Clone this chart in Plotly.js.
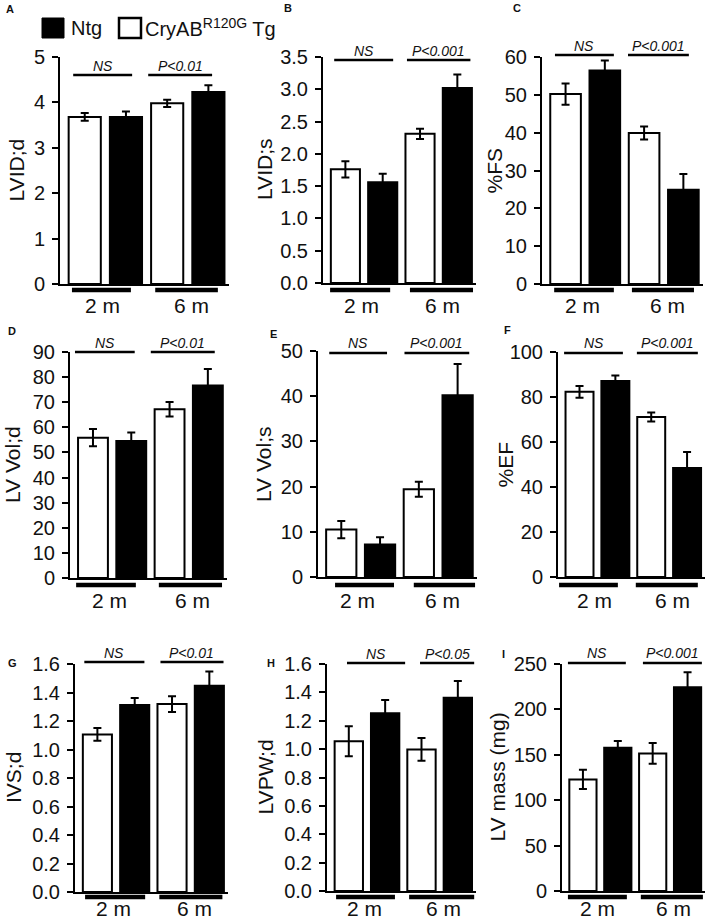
<!DOCTYPE html>
<html>
<head>
<meta charset="utf-8">
<script src="https://cdn.plot.ly/plotly-3.0.1.min.js"></script>
<style>
  html, body { margin: 0; padding: 0; background: #fff; }
  #chart { width: 709px; height: 919px; }
</style>
</head>
<body>
<div id="chart"></div>
<script>
// ---------------- DATA ----------------
const ages = ['2 m', '6 m'];
const groupNames = ['Ntg', 'CryAB<sup>R120G</sup> Tg'];

const yTitles = ['LVID;d', 'LVID;s', '%FS', 'LV Vol;d', 'LV Vol;s', '%EF', 'IVS;d', 'LVPW;d', 'LV mass (mg)'];
const panelLetters = ['A', 'B', 'C', 'D', 'E', 'F', 'G', 'H', 'I'];
const twoMonthLabels = ['NS', 'NS', 'NS', 'NS', 'NS', 'NS', 'NS', 'NS', 'NS'];
const sixMonthLabels = ['P<0.01', 'P<0.001', 'P<0.001', 'P<0.01', 'P<0.001', 'P<0.001', 'P<0.01', 'P<0.05', 'P<0.001'];

// white bars = CryAB R120G Tg, black bars = Ntg (as in the legend)
const lvidD_tg = [3.68, 3.98],   lvidD_tgErr = [0.085, 0.08],  lvidD_ntg = [3.68, 4.23],   lvidD_ntgErr = [0.12, 0.15];
const lvidS_tg = [1.76, 2.31],   lvidS_tgErr = [0.125, 0.08],  lvidS_ntg = [1.56, 3.02],   lvidS_ntgErr = [0.13, 0.21];
const fs_tg = [50.2, 39.9],      fs_tgErr = [2.8, 1.7],        fs_ntg = [56.4, 24.9],      fs_ntgErr = [2.7, 4.2];
const volD_tg = [55.9, 67.2],    volD_tgErr = [3.4, 2.9],      volD_ntg = [54.6, 76.7],    volD_ntgErr = [3.3, 6.5];
const volS_tg = [10.5, 19.4],    volS_tgErr = [1.9, 1.65],     volS_ntg = [7.2, 40.2],     volS_ntgErr = [1.6, 6.9];
const ef_tg = [82.3, 71.1],      ef_tgErr = [2.6, 2.0],        ef_ntg = [87.1, 48.4],      ef_ntgErr = [2.5, 7.2];
const ivsD_tg = [1.106, 1.319],  ivsD_tgErr = [0.045, 0.055],  ivsD_ntg = [1.312, 1.448],  ivsD_ntgErr = [0.05, 0.10];
const lvpwD_tg = [1.056, 0.998], lvpwD_tgErr = [0.106, 0.08],  lvpwD_ntg = [1.252, 1.362], lvpwD_ntgErr = [0.094, 0.118];
const mass_tg = [122.8, 151.5],  mass_tgErr = [10.6, 11.4],    mass_ntg = [157.7, 224.3],  mass_ntgErr = [7.4, 16.5];

const yRanges = [[0, 5], [0, 3.5], [0, 60], [0, 90], [0, 50], [0, 100], [0, 1.6], [0, 1.6], [0, 250]];
const yDticks = [1, 0.5, 10, 10, 10, 20, 0.2, 0.2, 50];
const yTickFormats = ['d', '.1f', 'd', 'd', 'd', 'd', '.1f', '.1f', 'd'];

const series = [
  [lvidD_tg, lvidD_tgErr, lvidD_ntg, lvidD_ntgErr],
  [lvidS_tg, lvidS_tgErr, lvidS_ntg, lvidS_ntgErr],
  [fs_tg, fs_tgErr, fs_ntg, fs_ntgErr],
  [volD_tg, volD_tgErr, volD_ntg, volD_ntgErr],
  [volS_tg, volS_tgErr, volS_ntg, volS_ntgErr],
  [ef_tg, ef_tgErr, ef_ntg, ef_ntgErr],
  [ivsD_tg, ivsD_tgErr, ivsD_ntg, ivsD_ntgErr],
  [lvpwD_tg, lvpwD_tgErr, lvpwD_ntg, lvpwD_ntgErr],
  [mass_tg, mass_tgErr, mass_ntg, mass_ntgErr]
];

// ---------------- LAYOUT GEOMETRY (pixels) ----------------
const W = 709, H = 919;
const PX = x => x / W;
const PY = y => 1 - y / H;

const geo = [
  {xL: 60,  xR: 229, yT: 57,  yB: 284, tx: 16,  sigY: 75,  sigTY: 66,  ns: [-0.28, 1.15], p: [1.54, 3.09], ul: [[-0.31, 1.12], [1.71, 3.23]], ulY: 290, lblY: 305, let: [10, 9]},
  {xL: 323, xR: 476, yT: 57,  yB: 283, tx: 265, sigY: 60,  sigTY: 51,  ns: [-0.30, 1.28], p: [1.65, 3.35], ul: [[-0.41, 1.20], [1.73, 3.42]], ulY: 290, lblY: 305, let: [288, 8]},
  {xL: 542, xR: 703, yT: 57,  yB: 284, tx: 494, sigY: 55,  sigTY: 46,  ns: [-0.27, 1.23], p: [1.59, 3.14], ul: [[-0.29, 1.23], [1.69, 3.27]], ulY: 290, lblY: 305, let: [517, 8]},
  {xL: 70,  xR: 227, yT: 352, yB: 578, tx: 12,  sigY: 352, sigTY: 343, ns: [-0.47, 1.09], p: [1.51, 3.18], ul: [[-0.44, 1.12], [1.72, 3.37]], ulY: 585, lblY: 600, let: [12, 331]},
  {xL: 318, xR: 477, yT: 351, yB: 577, tx: 263, sigY: 353, sigTY: 343, ns: [-0.31, 1.18], p: [1.63, 3.30], ul: [[-0.16, 1.36], [1.87, 3.45]], ulY: 585, lblY: 600, let: [273, 334]},
  {xL: 558, xR: 705, yT: 352, yB: 577, tx: 505, sigY: 353, sigTY: 343, ns: [-0.43, 1.21], p: [1.60, 3.30], ul: [[-0.57, 1.07], [1.57, 3.30]], ulY: 585, lblY: 600, let: [507, 330]},
  {xL: 75,  xR: 228, yT: 664, yB: 892, tx: 13,  sigY: 662, sigTY: 653, ns: [-0.35, 1.26], p: [1.69, 3.38], ul: [[-0.33, 1.28], [1.66, 3.35]], ulY: 897, lblY: 908, let: [12, 663]},
  {xL: 327, xR: 476, yT: 664, yB: 891, tx: 265, sigY: 663, sigTY: 654, ns: [-0.05, 1.55], p: [1.96, 3.45], ul: [[-0.35, 1.27], [1.66, 3.45]], ulY: 897, lblY: 908, let: [271, 663]},
  {xL: 562, xR: 705, yT: 664, yB: 891, tx: 497, sigY: 663, sigTY: 653, ns: [-0.43, 1.23], p: [1.72, 3.41], ul: [[-0.43, 1.26], [1.66, 3.44]], ulY: 897, lblY: 908, let: [503, 654]}
];

const FONT = 'Liberation Sans, Arial, Helvetica, sans-serif';
const esc = s => s.replace(/&/g, '&amp;').replace(/</g, '&lt;').replace(/>/g, '&gt;');

const traces = [];
const layout = {
  width: W, height: H,
  margin: {l: 0, r: 0, t: 0, b: 0},
  paper_bgcolor: '#fff', plot_bgcolor: 'rgba(0,0,0,0)',
  showlegend: false,
  barmode: 'overlay',
  font: {family: FONT, color: '#111'},
  shapes: [], annotations: []
};

geo.forEach((g, k) => {
  const n = k + 1;
  const xs = n === 1 ? 'x' : 'x' + n;
  const ys = n === 1 ? 'y' : 'y' + n;
  const [tg, tgErr, ntg, ntgErr] = series[k];

  // white bars (Tg) at first slot of each age, black (Ntg) at second slot
  traces.push({
    type: 'bar', xaxis: xs, yaxis: ys,
    x: ages.map((a, i) => 2 * i), y: tg, width: 0.78,
    marker: {color: '#fff', line: {color: '#000', width: 2}},
    error_y: {type: 'data', array: tgErr, visible: true, color: '#000', thickness: 2, width: 4},
    hoverinfo: 'skip'
  });
  traces.push({
    type: 'bar', xaxis: xs, yaxis: ys,
    x: ages.map((a, i) => 2 * i + 1), y: ntg, width: 0.78,
    marker: {color: '#000', line: {color: '#000', width: 2}},
    error_y: {type: 'data', array: ntgErr, visible: true, color: '#000', thickness: 2, width: 4},
    hoverinfo: 'skip'
  });

  layout['xaxis' + (n === 1 ? '' : n)] = {
    domain: [PX(g.xL), PX(g.xR)], range: [-0.6, 3.5], anchor: ys,
    showline: true, linewidth: 2, linecolor: '#000',
    showticklabels: false, ticks: '', showgrid: false, zeroline: false, fixedrange: true
  };
  layout['yaxis' + (n === 1 ? '' : n)] = {
    domain: [PY(g.yB), PY(g.yT)], range: yRanges[k], anchor: xs,
    showline: true, linewidth: 2, linecolor: '#000',
    ticks: 'outside', ticklen: 6, tickwidth: 2, tickcolor: '#000',
    tick0: 0, dtick: yDticks[k], tickformat: yTickFormats[k],
    ticklabelstandoff: 3,
    tickfont: {family: FONT, size: 20, color: '#111'},
    showgrid: false, zeroline: false, fixedrange: true
  };

  // group underlines under the x axis
  g.ul.forEach(([a, b]) => {
    layout.shapes.push({type: 'line', xref: xs, yref: 'paper', x0: a, x1: b, y0: PY(g.ulY), y1: PY(g.ulY),
      line: {color: '#000', width: 4.5}});
  });
  // age labels
  [0.42, 2.6].forEach((xv, i) => {
    layout.annotations.push({xref: xs, yref: 'paper', x: xv, y: PY(g.lblY), text: ages[i],
      showarrow: false, xanchor: 'center', yanchor: 'middle', font: {family: FONT, size: 21, color: '#111'}});
  });
  // significance lines and labels
  [[g.ns, twoMonthLabels[k]], [g.p, sixMonthLabels[k]]].forEach(([ext, lab]) => {
    layout.shapes.push({type: 'line', xref: xs, yref: 'paper', x0: ext[0], x1: ext[1], y0: PY(g.sigY), y1: PY(g.sigY),
      line: {color: '#000', width: 2.5}});
    layout.annotations.push({xref: xs, yref: 'paper', x: (ext[0] + ext[1]) / 2, y: PY(g.sigTY),
      text: '<i>' + esc(lab) + '</i>', showarrow: false, xanchor: 'center', yanchor: 'middle',
      font: {family: FONT, size: 14, color: '#111'}});
  });
  // y-axis titles
  layout.annotations.push({xref: 'paper', yref: 'paper', x: PX(g.tx), y: PY((g.yT + g.yB) / 2),
    text: yTitles[k], textangle: -90, showarrow: false, xanchor: 'center', yanchor: 'middle',
    font: {family: FONT, size: 21, color: '#111'}});
  // panel letters
  layout.annotations.push({xref: 'paper', yref: 'paper', x: PX(g.let[0]), y: PY(g.let[1]),
    text: '<b>' + panelLetters[k] + '</b>', showarrow: false, xanchor: 'center', yanchor: 'middle',
    font: {family: FONT, size: 11, color: '#111'}});
});

// legend drawn manually
layout.shapes.push({type: 'rect', xref: 'paper', yref: 'paper', x0: PX(42), x1: PX(64), y0: PY(38), y1: PY(18),
  fillcolor: '#000', line: {color: '#000', width: 1}});
layout.shapes.push({type: 'rect', xref: 'paper', yref: 'paper', x0: PX(119), x1: PX(141), y0: PY(38), y1: PY(18),
  fillcolor: '#fff', line: {color: '#000', width: 2.5}});
layout.annotations.push({xref: 'paper', yref: 'paper', x: PX(69), y: PY(28), text: groupNames[0],
  showarrow: false, xanchor: 'left', yanchor: 'middle', font: {family: FONT, size: 20, color: '#111'}});
layout.annotations.push({xref: 'paper', yref: 'paper', x: PX(143), y: PY(28), text: groupNames[1],
  showarrow: false, xanchor: 'left', yanchor: 'middle', font: {family: FONT, size: 20, color: '#111'}});

Plotly.newPlot('chart', traces, layout, {staticPlot: true, displayModeBar: false});
</script>
</body>
</html>
